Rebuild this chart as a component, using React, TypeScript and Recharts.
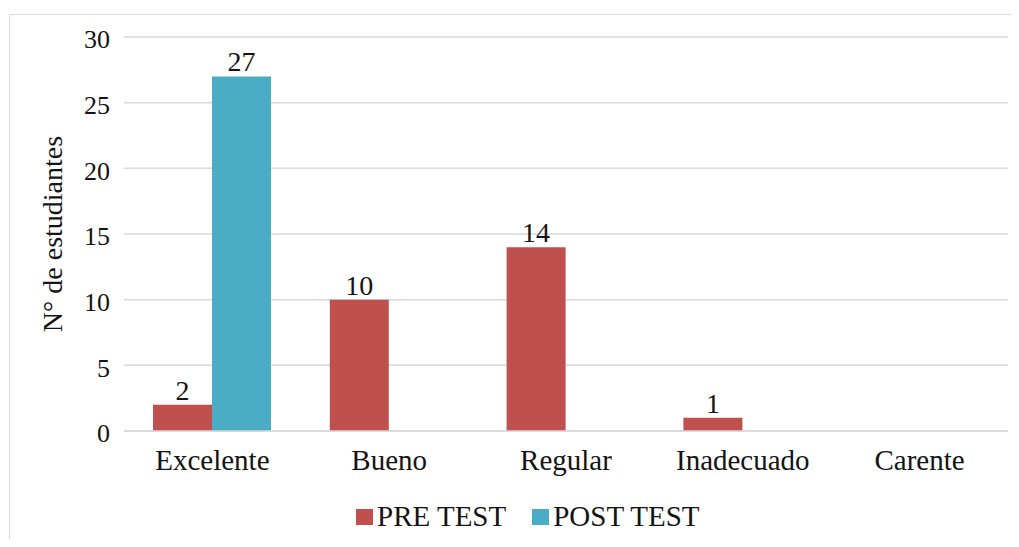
import {
  BarChart,
  Bar,
  XAxis,
  YAxis,
  CartesianGrid,
  Legend,
  LabelList,
} from 'recharts'

const categories = ['Excelente', 'Bueno', 'Regular', 'Inadecuado', 'Carente']
const preTest = [2, 10, 14, 1, 0]
const postTest = [27, 0, 0, 0, 0]
const yTicks = [0, 5, 10, 15, 20, 25, 30]

const series = [
  { key: 'pre', name: 'PRE TEST', color: '#C0504D' },
  { key: 'post', name: 'POST TEST', color: '#4BACC6' },
]

const data = categories.map((c, i) => ({ name: c, pre: preTest[i], post: postTest[i] }))

const FONT = 'Tinos, "Liberation Serif", "DejaVu Serif"'
const TEXT = '#141414'

const hideZero = (v: any) => (v === 0 || v == null ? '' : v)

function LegendBox() {
  return (
    <div style={{ display: 'flex', alignItems: 'center', fontFamily: FONT, fontSize: 29, lineHeight: '33px', color: TEXT, whiteSpace: 'nowrap' }}>
      {series.map((s, i) => (
        <div key={s.key} style={{ display: 'flex', alignItems: 'center', marginRight: i === 0 ? 26 : 0 }}>
          <span style={{ display: 'inline-block', width: 17, height: 16, background: s.color, marginRight: 4 }} />
          <span>{s.name}</span>
        </div>
      ))}
    </div>
  )
}

function YTitle(props: any) {
  const vb = props.viewBox || { x: 0, y: 0, width: 0, height: 0 }
  const cx = vb.x + 52
  const cy = vb.y + vb.height / 2
  return (
    <text
      x={cx}
      y={cy}
      transform={`rotate(-90, ${cx}, ${cy})`}
      textAnchor="middle"
      dominantBaseline="central"
      fontFamily={FONT}
      fontSize={28}
      fill={TEXT}
    >
      N° de estudiantes
    </text>
  )
}

export default function App() {
  return (
    <div style={{ margin: -8, width: 1019, height: 547, position: 'relative', fontFamily: FONT }}>
      <div
        style={{
          position: 'absolute',
          left: 9,
          top: 14,
          right: 0,
          bottom: 0,
          borderLeft: '1px solid #d9d9d9',
          borderTop: '1px solid #d9d9d9',
        }}
      />
      <BarChart
        width={1019}
        height={547}
        data={data}
        margin={{ top: 37, right: 11, left: 0, bottom: 56 }}
        barGap={0}
      >
        <CartesianGrid vertical={false} stroke="#d9d9d9" strokeWidth={1.5} />
        <XAxis
          dataKey="name"
          height={60}
          tickLine={false}
          tickSize={0}
          tickMargin={18}
          axisLine={{ stroke: '#d9d9d9', strokeWidth: 1.5 }}
          tick={{ fontSize: 29, fontFamily: FONT, fill: TEXT }}
          interval={0}
        />
        <YAxis
          width={124}
          domain={[0, 30]}
          ticks={yTicks}
          tickLine={false}
          tickSize={0}
          axisLine={false}
          tickMargin={14}
          tick={{ fontSize: 26, fontFamily: FONT, fill: TEXT, dy: 2 }}
          label={{ content: YTitle }}
        />
        <Legend
          layout="horizontal"
          verticalAlign="middle"
          align="center"
          wrapperStyle={{ left: 356, top: 500, width: 'auto' }}
          content={() => <LegendBox />}
        />
        {series.map((s) => (
          <Bar key={s.key} dataKey={s.key} name={s.name} fill={s.color} barSize={59} isAnimationActive={false}>
            <LabelList
              dataKey={s.key}
              position="top"
              offset={5}
              formatter={hideZero}
              fontFamily={FONT}
              fontSize={28}
              fill={TEXT}
            />
          </Bar>
        ))}
      </BarChart>
    </div>
  )
}
